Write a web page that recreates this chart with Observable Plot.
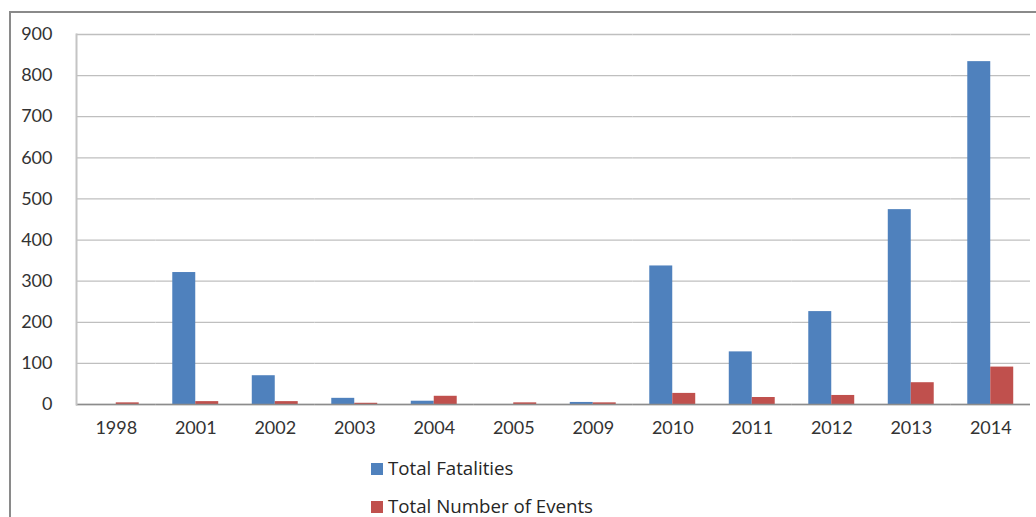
<!DOCTYPE html>
<html>
<head>
<meta charset="utf-8">
<script src="https://cdn.jsdelivr.net/npm/d3@7"></script>
<script src="https://cdn.jsdelivr.net/npm/@observablehq/plot@0.6"></script>
<style>
  body { margin: 0; background: #fff; font-family: Lato, "Open Sans", sans-serif; }
  #wrap { position: relative; width: 1036px; height: 517px; overflow: hidden; background: #fff; }
  #outer { position: absolute; left: 9px; top: 11px; right: -4px; bottom: -4px;
           border-left: 2px solid #8a8a8a; border-top: 2px solid #8a8a8a; }
  #chart { position: absolute; left: 0; top: 0; }
  #legend { position: absolute; left: 371px; top: 459px; font-family: "Open Sans", sans-serif;
            font-size: 18.7px; line-height: 1; color: #262626; }
  .item { display: flex; align-items: center; height: 19px; margin-bottom: 19px; }
  .swatch { width: 12px; height: 12px; margin-right: 5px; }
</style>
</head>
<body>
<div id="wrap">
  <div id="outer"></div>
  <div id="chart"></div>
  <div id="legend"></div>
</div>
<script>
// Yearly totals
const years = ["1998", "2001", "2002", "2003", "2004", "2005", "2009", "2010", "2011", "2012", "2013", "2014"];
const fatalities = [0, 321, 70, 15, 8, 0, 5, 337, 128, 226, 474, 834];
const events = [4, 7, 7, 3, 20, 4, 4, 27, 17, 22, 53, 91];
const seriesNames = ["Total Fatalities", "Total Number of Events"];
const seriesColors = ["#4F81BD", "#C0504D"];
const yTicks = [0, 100, 200, 300, 400, 500, 600, 700, 800, 900];

const rows = years.flatMap((year, i) => [
  {year, series: seriesNames[0], value: fatalities[i]},
  {year, series: seriesNames[1], value: events[i]}
]);

const chart = Plot.plot({
  width: 1036,
  height: 450,
  marginLeft: 76,
  marginRight: 6,
  marginTop: 34,
  marginBottom: 46,
  style: {fontFamily: "Lato, 'Open Sans', sans-serif", fontSize: "18px", color: "#333", background: "transparent"},
  fx: {domain: years, padding: 0, label: null, round: false},
  x: {domain: seriesNames, paddingInner: 0, paddingOuter: 0.73, axis: null, round: false},
  y: {domain: [0, 900], label: null},
  color: {domain: seriesNames, range: seriesColors},
  marks: [
    Plot.gridY(yTicks, {stroke: "#bfbfbf", strokeOpacity: 1, strokeWidth: 1.3}),
    Plot.axisY(yTicks, {tickSize: 0, tickPadding: 24, label: null}),
    Plot.axisFx({tickSize: 0, tickPadding: 17, label: null, anchor: "bottom"}),
    Plot.barY(rows, {fx: "year", x: "series", y: "value", fill: "series"}),
    Plot.ruleY([0], {stroke: "#8c8c8c", strokeWidth: 1.5}),
    Plot.frame({anchor: "left", facet: "super", stroke: "#c4c4c4", strokeWidth: 2})
  ]
});
document.getElementById("chart").append(chart);

// Legend below the plot
const legend = document.getElementById("legend");
seriesNames.forEach((name, i) => {
  const item = document.createElement("div");
  item.className = "item";
  const sw = document.createElement("span");
  sw.className = "swatch";
  sw.style.background = seriesColors[i];
  const label = document.createElement("span");
  label.textContent = name;
  item.append(sw, label);
  legend.append(item);
});
</script>
</body>
</html>
